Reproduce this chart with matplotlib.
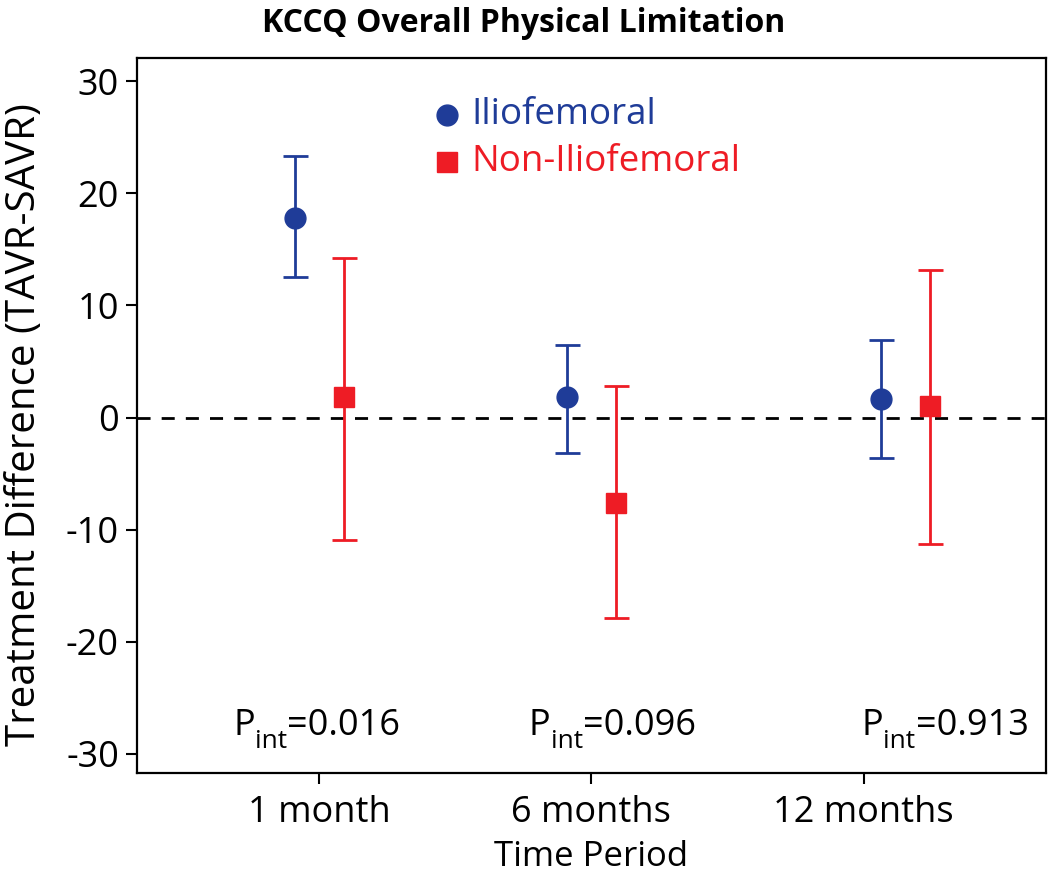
import matplotlib
matplotlib.use("Agg")
import matplotlib.pyplot as plt
import numpy as np
from matplotlib.transforms import offset_copy

plt.rcParams['font.family'] = ['Open Sans', 'DejaVu Sans']
plt.rcParams['axes.unicode_minus'] = False

# ---- data ----
periods = ["1 month", "6 months", "12 months"]
ilio_mean = [17.8, 1.8, 1.7]
ilio_low = [12.5, -3.2, -3.6]
ilio_high = [23.3, 6.5, 6.9]
non_mean = [1.8, -7.6, 1.0]
non_low = [-10.9, -17.9, -11.3]
non_high = [14.2, 2.8, 13.2]
p_labels = ["0.016", "0.096", "0.913"]

BLUE = "#1f3c98"
RED = "#ee1c25"

fig = plt.figure(figsize=(10.5, 8.75), dpi=100)
ax = fig.add_axes([0.1305, 0.1166, 0.8655, 0.8175])

base = np.arange(1, len(periods) + 1, dtype=float)
center_shift = np.array([0.0, 0.0, 0.155])
half = 0.09
xb = base + center_shift - half
xr = base + center_shift + half

im = np.array(ilio_mean); inn = np.array(non_mean)
ax.errorbar(xb, im, yerr=[im - np.array(ilio_low), np.array(ilio_high) - im],
            fmt='o', color=BLUE, ms=15, elinewidth=2, capsize=9, capthick=2, zorder=3)
ax.errorbar(xr, inn, yerr=[inn - np.array(non_low), np.array(non_high) - inn],
            fmt='s', color=RED, ms=14.5, elinewidth=2, capsize=9, capthick=2, zorder=3)

ax.axhline(0, color='black', lw=2, ls=(0, (4.7, 4)), zorder=1)

ax.set_xlim(0.33, 3.67)
ax.set_ylim(-31.7, 32.1)
ax.set_yticks([-30, -20, -10, 0, 10, 20, 30])
ax.set_xticks(base)
ax.set_xticklabels(periods)
ax.tick_params(axis='both', labelsize=26, length=8, width=1.5, direction='out', pad=5)
ax.tick_params(axis='x', pad=8)
for s in ax.spines.values():
    s.set_linewidth(1.6)

ax.set_ylabel("Treatment Difference (TAVR-SAVR)", fontsize=29)
ax.yaxis.set_label_coords(-0.101, 0.487)
ax.set_xlabel("Time Period", fontsize=25, labelpad=6)
fig.text(0.499, 1 - 23 / 875, "KCCQ Overall Physical Limitation", fontsize=23,
         fontweight='bold', ha='center', va='center')

# legend drawn as markers + text in axes coordinates
ax.plot([0.341], [0.92], marker='o', color=BLUE, ms=15, transform=ax.transAxes, clip_on=False)
ax.text(0.368, 0.92, "Iliofemoral", color=BLUE, fontsize=26.5, va='center', transform=ax.transAxes)
ax.plot([0.341], [0.854], marker='s', color=RED, ms=14.5, transform=ax.transAxes, clip_on=False)
ax.text(0.368, 0.854, "Non-Iliofemoral", color=RED, fontsize=26.5, va='center', transform=ax.transAxes)

# P_int annotations built from pieces (main text + lowered subscript)
fig.canvas.draw()
renderer = fig.canvas.get_renderer()
p_x = [0.99, 2.077, 3.30]
fs_main = 26
fs_sub = 19
y_base = -28.3
for x, p in zip(p_x, p_labels):
    parts = [("P", fs_main, 0), ("int", fs_sub, -13), ("=" + p, fs_main, 0)]
    widths = []
    for s, fs, dy in parts:
        t = ax.text(0, 0, s, fontsize=fs)
        widths.append(t.get_window_extent(renderer).width)
        t.remove()
    total = sum(widths)
    x0 = -total / 2
    for (s, fs, dy), w in zip(parts, widths):
        tr = offset_copy(ax.transData, fig=fig, x=x0 * 72 / fig.dpi, y=dy * 72 / fig.dpi, units='points')
        ax.text(x, y_base, s, fontsize=fs, ha='left', va='baseline', transform=tr)
        x0 += w

fig.savefig("out.png", dpi=100)
